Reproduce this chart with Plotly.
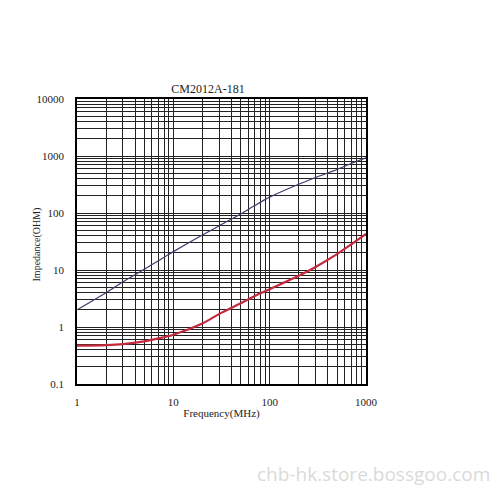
import plotly.graph_objects as go

freq = [1, 2, 3, 5, 7, 10, 20, 30, 50, 70, 100, 200, 300, 500, 700, 1000]
blue_z = [2.0, 4.0, 6.2, 10.3, 14.5, 21, 41, 60, 96, 135, 190, 320, 420, 580, 740, 930]
red_z = [0.47, 0.48, 0.5, 0.56, 0.63, 0.73, 1.15, 1.7, 2.6, 3.5, 4.6, 7.9, 11.3, 19, 28, 43]

title_text = "CM2012A-181"
x_title = "Frequency(MHz)"
y_title = "Impedance(OHM)"
x_ticks = [1, 10, 100, 1000]
y_ticks = [0.1, 1, 10, 100, 1000, 10000]
watermark = "chb-hk.store.bossgoo.com"

serif = "Liberation Serif, Times New Roman, serif"

fig = go.Figure()
fig.add_trace(go.Scatter(x=freq, y=blue_z, mode="lines",
                         line=dict(color="#3b3d6e", width=1.2, shape="spline", smoothing=0.6),
                         showlegend=False))
fig.add_trace(go.Scatter(x=freq, y=red_z, mode="lines",
                         line=dict(color="#c42a3c", width=2.2, shape="spline", smoothing=0.8),
                         showlegend=False))

grid_col = "#222222"
fig.update_xaxes(type="log", range=[0, 3], tickvals=x_ticks,
                 ticktext=[str(v) for v in x_ticks],
                 showgrid=True, gridcolor=grid_col, gridwidth=1.2,
                 minor=dict(showgrid=True, dtick="D1", gridcolor=grid_col, gridwidth=1),
                 showline=True, linecolor="black", linewidth=1.5, mirror=True,
                 ticks="", ticklabelstandoff=7,
                 tickfont=dict(family=serif, size=11, color="#222"),
                 title=dict(text=x_title, font=dict(family=serif, size=11, color="#222"), standoff=2),
                 zeroline=False)
fig.update_yaxes(type="log", range=[-1, 4], tickvals=y_ticks,
                 ticktext=["0.1", "1", "10", "100", "1000", "10000"],
                 showgrid=True, gridcolor=grid_col, gridwidth=1.2,
                 minor=dict(showgrid=True, dtick="D1", gridcolor=grid_col, gridwidth=1),
                 showline=True, linecolor="black", linewidth=1.5, mirror=True,
                 ticks="", ticklabelstandoff=9,
                 tickfont=dict(family=serif, size=11, color="#222"),
                 zeroline=False)

fig.update_layout(
    width=500, height=500,
    margin=dict(l=69, r=142, t=91, b=124),
    paper_bgcolor="white", plot_bgcolor="white",
    title=dict(text=title_text, x=0.4, xanchor="center", y=0.838, yanchor="middle",
               font=dict(family=serif, size=12, color="#222")),
    annotations=[
        dict(text=y_title, xref="paper", yref="paper", x=-0.138, y=0.49,
             xanchor="center", yanchor="middle", textangle=-90, showarrow=False,
             font=dict(family=serif, size=10, color="#222")),
        dict(text=watermark, xref="paper", yref="paper", x=1.436, y=-0.315,
             xanchor="right", yanchor="middle", showarrow=False,
             font=dict(family="Open Sans, sans-serif", size=19, color="#dadada")),
    ],
)

fig.write_html("out.html")
